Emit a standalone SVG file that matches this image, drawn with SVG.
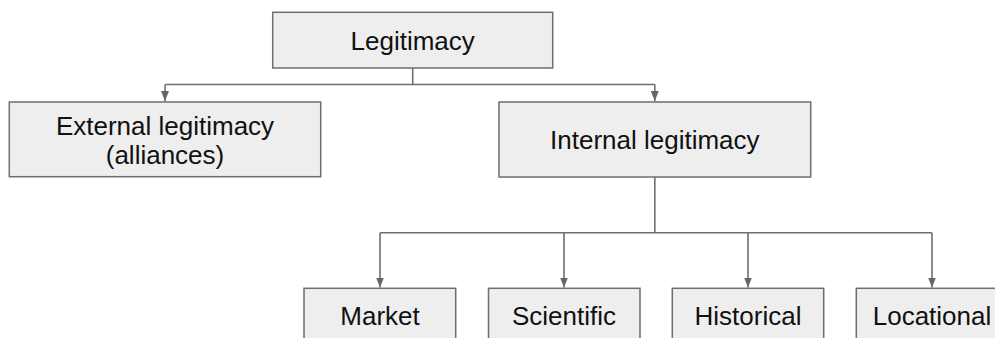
<svg xmlns="http://www.w3.org/2000/svg" width="995" height="338" viewBox="0 0 995 338">
<style>
.box{fill:#eeeeee;stroke:#6e6e6e;stroke-width:1.5}
.lbl{font-family:"Liberation Sans",Arial,sans-serif;font-size:26px;fill:#111;text-anchor:middle}
.conn{fill:none;stroke:#6e6e6e;stroke-width:1.6}
</style>
<defs>
<marker id="arr" viewBox="0 0 10 8" refX="10" refY="4" markerWidth="10" markerHeight="8" markerUnits="userSpaceOnUse" orient="auto">
<path d="M0,0 L10,4 L0,8 z" fill="#666"/>
</marker>
</defs>
<rect width="995" height="338" fill="#ffffff"/>
<g id="connectors">
<path class="conn" d="M412.7,68 V84.5"/>
<path class="conn" d="M165,84.5 H654.8"/>
<path class="conn" d="M165,84.5 V101" marker-end="url(#arr)"/>
<path class="conn" d="M654.8,84.5 V101" marker-end="url(#arr)"/>
<path class="conn" d="M654.8,177 V232.7"/>
<path class="conn" d="M380,232.7 H932"/>
<path class="conn" d="M380,232.7 V287.5" marker-end="url(#arr)"/>
<path class="conn" d="M564,232.7 V287.5" marker-end="url(#arr)"/>
<path class="conn" d="M748,232.7 V287.5" marker-end="url(#arr)"/>
<path class="conn" d="M932,232.7 V287.5" marker-end="url(#arr)"/>
</g>
<g id="legitimacy">
<rect class="box" x="272.7" y="12.3" width="280" height="55.7"/>
<text class="lbl" x="412.7" y="50">Legitimacy</text>
</g>
<g id="external">
<rect class="box" x="9.3" y="102" width="311.4" height="74.7"/>
<text class="lbl" x="165" y="134.5">External legitimacy</text>
<text class="lbl" x="165" y="163.5">(alliances)</text>
</g>
<g id="internal">
<rect class="box" x="499" y="102" width="311.7" height="75"/>
<text class="lbl" x="654.8" y="149">Internal legitimacy</text>
</g>
<g id="market">
<rect class="box" x="304" y="288.3" width="151.7" height="60"/>
<text class="lbl" x="380" y="325">Market</text>
</g>
<g id="scientific">
<rect class="box" x="488.5" y="288.3" width="151.5" height="60"/>
<text class="lbl" x="564" y="325">Scientific</text>
</g>
<g id="historical">
<rect class="box" x="672.3" y="288.3" width="151.4" height="60"/>
<text class="lbl" x="748" y="325">Historical</text>
</g>
<g id="locational">
<rect class="box" x="856.3" y="288.3" width="151.4" height="60"/>
<text class="lbl" x="932" y="325">Locational</text>
</g>
</svg>
